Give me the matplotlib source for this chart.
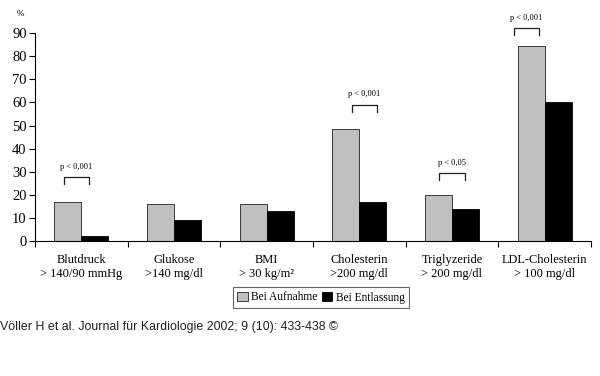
import numpy as np
import matplotlib
matplotlib.use('Agg')
import matplotlib.pyplot as plt

categories = ['Blutdruck\n> 140/90 mmHg', 'Glukose\n>140 mg/dl', 'BMI\n> 30 kg/m²',
              'Cholesterin\n>200 mg/dl', 'Triglyzeride\n> 200 mg/dl', 'LDL-Cholesterin\n> 100 mg/dl']
aufnahme = [17, 16, 16, 48.5, 20, 84.5]
entlassung = [2, 9, 13, 17, 14, 60]
yticks = [0, 10, 20, 30, 40, 50, 60, 70, 80, 90]

# p-Werte: (Kategorie, Text, Klammerhöhe, Versatz links, Versatz rechts)
signif = [(0, 'p < 0,001', 27.7, -0.19, 0.08),
          (3, 'p < 0,001', 59.0, -0.08, 0.19),
          (4, 'p < 0,05', 29.4, -0.14, 0.14),
          (5, 'p < 0,001', 92.2, -0.33, -0.06)]

serif = 'Liberation Serif'
fig = plt.figure(figsize=(6, 3.76), dpi=100)
ax = fig.add_axes([0.0583, 0.359, 0.9267, 0.553])

x = np.arange(len(categories)) + 0.5
w = 0.29
ax.bar(x - w / 2, aufnahme, w, color='#c0c0c0', edgecolor='#202020', linewidth=0.6,
       label='Bei Aufnahme')
ax.bar(x + w / 2, entlassung, w, color='#000000', edgecolor='#000000', linewidth=0.6,
       label='Bei Entlassung')

for i, txt, h, l, r in signif:
    c = x[i]
    ax.plot([c + l, c + l, c + r, c + r], [h - 3, h, h, h - 3], color='#202020',
            linewidth=0.9, clip_on=False)
    ax.text((2 * c + l + r) / 2, h + 4.5, txt, ha='center', va='center', fontsize=6,
            family=serif, clip_on=False)

ax.set_xlim(0, 6)
ax.set_ylim(0, 90)
ax.set_yticks(yticks)
ax.set_yticklabels([str(v) for v in yticks], family=serif, fontsize=10.5)
ax.set_xticks(np.arange(0, 7), minor=True)
ax.set_xticks(x)
ax.set_xticklabels(categories, family=serif, fontsize=8.9, linespacing=1.2)
ax.tick_params(axis='x', which='major', length=0, pad=9.5)
ax.tick_params(axis='x', which='minor', length=4, width=0.8)
ax.tick_params(axis='y', length=4, width=0.8, pad=2)
ax.spines['top'].set_visible(False)
ax.spines['right'].set_visible(False)
ax.spines['left'].set_linewidth(0.8)
ax.spines['bottom'].set_linewidth(0.8)
fig.text(17 / 600, 1 - 14 / 376, '%', family=serif, fontsize=6.5, ha='left', va='center')

leg = fig.legend(loc='center', bbox_to_anchor=(321 / 600, 1 - 297.5 / 376), ncol=2,
                 prop={'family': serif, 'size': 8.3}, frameon=True, fancybox=False,
                 edgecolor='#404040', handlelength=0.9, handleheight=0.9,
                 handletextpad=0.3, columnspacing=0.4, borderpad=0.35, borderaxespad=0)
leg.get_frame().set_linewidth(0.8)

fig.text(0, 1 - 327 / 376, 'Völler H et al. Journal für Kardiologie 2002; 9 (10): 433-438 ©',
         family='Liberation Sans', fontsize=8.9, ha='left', va='center', color='#202020')

fig.savefig('out.png', dpi=100, facecolor='white')
